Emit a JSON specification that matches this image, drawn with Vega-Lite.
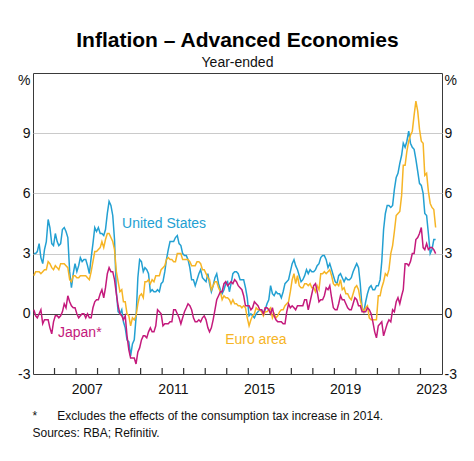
{
"$schema": "https://vega.github.io/schema/vega-lite/v6.json",
"width": 409,
"height": 301,
"autosize": {"type": "none"},
"padding": {"left": 33, "top": 73, "right": 32, "bottom": 87},
"background": "white",
"config": {
  "font": "Liberation Sans",
  "view": {"stroke": "#3a3a3a", "strokeWidth": 1},
  "axis": {"labelFont": "Liberation Sans", "labelColor": "#111", "labelFontSize": 14}
},
"title": {
  "text": "Inflation – Advanced Economies",
  "subtitle": "Year-ended",
  "font": "Liberation Sans",
  "subtitleFont": "Liberation Sans",
  "fontSize": 21,
  "fontWeight": "bold",
  "subtitleFontSize": 14,
  "color": "#000",
  "subtitleColor": "#111",
  "anchor": "middle",
  "offset": 3,
  "subtitlePadding": 5
},
"datasets": {
  "cpi": [
{"d":"2005-01-15","us":3.0,"ea":1.9,"jp":0.2},
{"d":"2005-02-15","us":3.0,"ea":2.1,"jp":-0.1},
{"d":"2005-03-15","us":3.1,"ea":2.1,"jp":-0.2},
{"d":"2005-04-15","us":3.5,"ea":2.1,"jp":0.0},
{"d":"2005-05-15","us":2.8,"ea":2.0,"jp":0.2},
{"d":"2005-06-15","us":2.5,"ea":2.1,"jp":-0.5},
{"d":"2005-07-15","us":3.2,"ea":2.2,"jp":-0.3},
{"d":"2005-08-15","us":3.6,"ea":2.2,"jp":-0.3},
{"d":"2005-09-15","us":4.7,"ea":2.6,"jp":-0.3},
{"d":"2005-10-15","us":4.3,"ea":2.5,"jp":-0.7},
{"d":"2005-11-15","us":3.5,"ea":2.3,"jp":-1.0},
{"d":"2005-12-15","us":3.4,"ea":2.2,"jp":-0.4},
{"d":"2006-01-15","us":4.0,"ea":2.4,"jp":-0.1},
{"d":"2006-02-15","us":3.6,"ea":2.3,"jp":-0.1},
{"d":"2006-03-15","us":3.4,"ea":2.2,"jp":-0.2},
{"d":"2006-04-15","us":3.5,"ea":2.5,"jp":-0.1},
{"d":"2006-05-15","us":4.2,"ea":2.5,"jp":0.1},
{"d":"2006-06-15","us":4.3,"ea":2.5,"jp":0.5},
{"d":"2006-07-15","us":4.1,"ea":2.4,"jp":0.3},
{"d":"2006-08-15","us":3.8,"ea":2.3,"jp":0.9},
{"d":"2006-09-15","us":2.1,"ea":1.7,"jp":0.6},
{"d":"2006-10-15","us":1.3,"ea":1.6,"jp":0.4},
{"d":"2006-11-15","us":2.0,"ea":1.9,"jp":0.3},
{"d":"2006-12-15","us":2.5,"ea":1.9,"jp":0.3},
{"d":"2007-01-15","us":2.1,"ea":1.8,"jp":0.0},
{"d":"2007-02-15","us":2.4,"ea":1.8,"jp":-0.2},
{"d":"2007-03-15","us":2.8,"ea":1.9,"jp":-0.1},
{"d":"2007-04-15","us":2.6,"ea":1.9,"jp":0.0},
{"d":"2007-05-15","us":2.7,"ea":1.9,"jp":0.0},
{"d":"2007-06-15","us":2.7,"ea":1.9,"jp":-0.2},
{"d":"2007-07-15","us":2.4,"ea":1.8,"jp":0.0},
{"d":"2007-08-15","us":2.0,"ea":1.7,"jp":-0.2},
{"d":"2007-09-15","us":2.8,"ea":2.1,"jp":-0.2},
{"d":"2007-10-15","us":3.5,"ea":2.6,"jp":0.3},
{"d":"2007-11-15","us":4.3,"ea":3.1,"jp":0.6},
{"d":"2007-12-15","us":4.1,"ea":3.1,"jp":0.7},
{"d":"2008-01-15","us":4.3,"ea":3.2,"jp":0.7},
{"d":"2008-02-15","us":4.0,"ea":3.3,"jp":1.0},
{"d":"2008-03-15","us":4.0,"ea":3.6,"jp":1.2},
{"d":"2008-04-15","us":3.9,"ea":3.3,"jp":0.8},
{"d":"2008-05-15","us":4.2,"ea":3.7,"jp":1.3},
{"d":"2008-06-15","us":5.0,"ea":4.0,"jp":2.0},
{"d":"2008-07-15","us":5.6,"ea":4.0,"jp":2.3},
{"d":"2008-08-15","us":5.4,"ea":3.8,"jp":2.1},
{"d":"2008-09-15","us":4.9,"ea":3.6,"jp":2.1},
{"d":"2008-10-15","us":3.7,"ea":3.2,"jp":1.7},
{"d":"2008-11-15","us":1.1,"ea":2.1,"jp":1.0},
{"d":"2008-12-15","us":0.1,"ea":1.6,"jp":0.4},
{"d":"2009-01-15","us":0.0,"ea":1.1,"jp":0.0},
{"d":"2009-02-15","us":0.2,"ea":1.2,"jp":-0.1},
{"d":"2009-03-15","us":-0.4,"ea":0.6,"jp":-0.3},
{"d":"2009-04-15","us":-0.7,"ea":0.6,"jp":-0.1},
{"d":"2009-05-15","us":-1.3,"ea":0.0,"jp":-1.1},
{"d":"2009-06-15","us":-1.4,"ea":-0.1,"jp":-1.8},
{"d":"2009-07-15","us":-2.1,"ea":-0.6,"jp":-2.2},
{"d":"2009-08-15","us":-1.5,"ea":-0.2,"jp":-2.2},
{"d":"2009-09-15","us":-1.3,"ea":-0.3,"jp":-2.2},
{"d":"2009-10-15","us":-0.2,"ea":-0.1,"jp":-2.5},
{"d":"2009-11-15","us":1.8,"ea":0.5,"jp":-1.9},
{"d":"2009-12-15","us":2.7,"ea":0.9,"jp":-1.7},
{"d":"2010-01-15","us":2.6,"ea":1.0,"jp":-1.3},
{"d":"2010-02-15","us":2.1,"ea":0.8,"jp":-1.1},
{"d":"2010-03-15","us":2.3,"ea":1.6,"jp":-1.1},
{"d":"2010-04-15","us":2.2,"ea":1.6,"jp":-1.2},
{"d":"2010-05-15","us":2.0,"ea":1.7,"jp":-0.9},
{"d":"2010-06-15","us":1.1,"ea":1.5,"jp":-0.7},
{"d":"2010-07-15","us":1.2,"ea":1.7,"jp":-0.9},
{"d":"2010-08-15","us":1.1,"ea":1.6,"jp":-0.9},
{"d":"2010-09-15","us":1.1,"ea":1.9,"jp":-0.6},
{"d":"2010-10-15","us":1.2,"ea":1.9,"jp":0.2},
{"d":"2010-11-15","us":1.1,"ea":1.9,"jp":0.1},
{"d":"2010-12-15","us":1.5,"ea":2.2,"jp":0.0},
{"d":"2011-01-15","us":1.6,"ea":2.3,"jp":-0.6},
{"d":"2011-02-15","us":2.1,"ea":2.4,"jp":-0.5},
{"d":"2011-03-15","us":2.7,"ea":2.7,"jp":-0.5},
{"d":"2011-04-15","us":3.2,"ea":2.8,"jp":-0.5},
{"d":"2011-05-15","us":3.6,"ea":2.7,"jp":-0.4},
{"d":"2011-06-15","us":3.6,"ea":2.7,"jp":-0.4},
{"d":"2011-07-15","us":3.6,"ea":2.6,"jp":0.2},
{"d":"2011-08-15","us":3.8,"ea":2.6,"jp":0.2},
{"d":"2011-09-15","us":3.9,"ea":3.0,"jp":0.0},
{"d":"2011-10-15","us":3.5,"ea":3.0,"jp":-0.2},
{"d":"2011-11-15","us":3.4,"ea":3.0,"jp":-0.5},
{"d":"2011-12-15","us":3.0,"ea":2.7,"jp":-0.2},
{"d":"2012-01-15","us":2.9,"ea":2.7,"jp":0.1},
{"d":"2012-02-15","us":2.9,"ea":2.7,"jp":0.3},
{"d":"2012-03-15","us":2.7,"ea":2.7,"jp":0.5},
{"d":"2012-04-15","us":2.3,"ea":2.6,"jp":0.4},
{"d":"2012-05-15","us":1.7,"ea":2.4,"jp":0.2},
{"d":"2012-06-15","us":1.7,"ea":2.4,"jp":-0.2},
{"d":"2012-07-15","us":1.4,"ea":2.4,"jp":-0.4},
{"d":"2012-08-15","us":1.7,"ea":2.6,"jp":-0.4},
{"d":"2012-09-15","us":2.0,"ea":2.6,"jp":-0.3},
{"d":"2012-10-15","us":2.2,"ea":2.5,"jp":-0.4},
{"d":"2012-11-15","us":1.8,"ea":2.2,"jp":-0.2},
{"d":"2012-12-15","us":1.7,"ea":2.2,"jp":-0.1},
{"d":"2013-01-15","us":1.6,"ea":2.0,"jp":-0.3},
{"d":"2013-02-15","us":2.0,"ea":1.8,"jp":-0.7},
{"d":"2013-03-15","us":1.5,"ea":1.7,"jp":-0.9},
{"d":"2013-04-15","us":1.1,"ea":1.2,"jp":-0.7},
{"d":"2013-05-15","us":1.4,"ea":1.4,"jp":-0.3},
{"d":"2013-06-15","us":1.8,"ea":1.6,"jp":0.2},
{"d":"2013-07-15","us":2.0,"ea":1.6,"jp":0.7},
{"d":"2013-08-15","us":1.5,"ea":1.3,"jp":0.9},
{"d":"2013-09-15","us":1.2,"ea":1.1,"jp":1.1},
{"d":"2013-10-15","us":1.0,"ea":0.7,"jp":1.1},
{"d":"2013-11-15","us":1.2,"ea":0.9,"jp":1.5},
{"d":"2013-12-15","us":1.5,"ea":0.8,"jp":1.6},
{"d":"2014-01-15","us":1.6,"ea":0.8,"jp":1.4},
{"d":"2014-02-15","us":1.1,"ea":0.7,"jp":1.5},
{"d":"2014-03-15","us":1.5,"ea":0.5,"jp":1.6},
{"d":"2014-04-15","us":2.0,"ea":0.7,"jp":1.5},
{"d":"2014-05-15","us":2.1,"ea":0.5,"jp":1.7},
{"d":"2014-06-15","us":2.1,"ea":0.5,"jp":1.6},
{"d":"2014-07-15","us":2.0,"ea":0.4,"jp":1.4},
{"d":"2014-08-15","us":1.7,"ea":0.4,"jp":1.3},
{"d":"2014-09-15","us":1.7,"ea":0.3,"jp":1.2},
{"d":"2014-10-15","us":1.7,"ea":0.4,"jp":0.9},
{"d":"2014-11-15","us":1.3,"ea":0.3,"jp":0.4},
{"d":"2014-12-15","us":0.8,"ea":-0.2,"jp":0.4},
{"d":"2015-01-15","us":-0.1,"ea":-0.6,"jp":0.4},
{"d":"2015-02-15","us":0.0,"ea":-0.3,"jp":0.2},
{"d":"2015-03-15","us":-0.1,"ea":-0.1,"jp":0.3},
{"d":"2015-04-15","us":-0.2,"ea":0.0,"jp":0.6},
{"d":"2015-05-15","us":0.0,"ea":0.3,"jp":0.5},
{"d":"2015-06-15","us":0.1,"ea":0.2,"jp":0.4},
{"d":"2015-07-15","us":0.2,"ea":0.2,"jp":0.2},
{"d":"2015-08-15","us":0.2,"ea":0.1,"jp":0.2},
{"d":"2015-09-15","us":0.0,"ea":-0.1,"jp":0.0},
{"d":"2015-10-15","us":0.2,"ea":0.1,"jp":0.3},
{"d":"2015-11-15","us":0.5,"ea":0.1,"jp":0.3},
{"d":"2015-12-15","us":0.7,"ea":0.2,"jp":0.2},
{"d":"2016-01-15","us":1.4,"ea":0.3,"jp":0.0},
{"d":"2016-02-15","us":1.0,"ea":-0.2,"jp":0.3},
{"d":"2016-03-15","us":0.9,"ea":0.0,"jp":-0.1},
{"d":"2016-04-15","us":1.1,"ea":-0.2,"jp":-0.3},
{"d":"2016-05-15","us":1.0,"ea":-0.1,"jp":-0.4},
{"d":"2016-06-15","us":1.0,"ea":0.1,"jp":-0.4},
{"d":"2016-07-15","us":0.8,"ea":0.2,"jp":-0.4},
{"d":"2016-08-15","us":1.1,"ea":0.2,"jp":-0.5},
{"d":"2016-09-15","us":1.5,"ea":0.4,"jp":-0.5},
{"d":"2016-10-15","us":1.6,"ea":0.5,"jp":0.1},
{"d":"2016-11-15","us":1.7,"ea":0.6,"jp":0.5},
{"d":"2016-12-15","us":2.1,"ea":1.1,"jp":0.3},
{"d":"2017-01-15","us":2.5,"ea":1.7,"jp":0.4},
{"d":"2017-02-15","us":2.7,"ea":2.0,"jp":0.3},
{"d":"2017-03-15","us":2.4,"ea":1.5,"jp":0.2},
{"d":"2017-04-15","us":2.2,"ea":1.9,"jp":0.4},
{"d":"2017-05-15","us":1.9,"ea":1.4,"jp":0.4},
{"d":"2017-06-15","us":1.6,"ea":1.3,"jp":0.4},
{"d":"2017-07-15","us":1.7,"ea":1.3,"jp":0.4},
{"d":"2017-08-15","us":1.9,"ea":1.5,"jp":0.7},
{"d":"2017-09-15","us":2.2,"ea":1.5,"jp":0.7},
{"d":"2017-10-15","us":2.0,"ea":1.4,"jp":0.2},
{"d":"2017-11-15","us":2.2,"ea":1.5,"jp":0.6},
{"d":"2017-12-15","us":2.1,"ea":1.3,"jp":1.0},
{"d":"2018-01-15","us":2.1,"ea":1.3,"jp":1.4},
{"d":"2018-02-15","us":2.2,"ea":1.1,"jp":1.5},
{"d":"2018-03-15","us":2.4,"ea":1.4,"jp":1.1},
{"d":"2018-04-15","us":2.5,"ea":1.2,"jp":0.6},
{"d":"2018-05-15","us":2.8,"ea":2.0,"jp":0.7},
{"d":"2018-06-15","us":2.9,"ea":2.0,"jp":0.7},
{"d":"2018-07-15","us":2.9,"ea":2.1,"jp":0.9},
{"d":"2018-08-15","us":2.7,"ea":2.0,"jp":1.3},
{"d":"2018-09-15","us":2.3,"ea":2.1,"jp":1.2},
{"d":"2018-10-15","us":2.5,"ea":2.2,"jp":1.4},
{"d":"2018-11-15","us":2.2,"ea":1.9,"jp":0.8},
{"d":"2018-12-15","us":1.9,"ea":1.5,"jp":0.3},
{"d":"2019-01-15","us":1.6,"ea":1.4,"jp":0.2},
{"d":"2019-02-15","us":1.5,"ea":1.5,"jp":0.2},
{"d":"2019-03-15","us":1.9,"ea":1.4,"jp":0.5},
{"d":"2019-04-15","us":2.0,"ea":1.7,"jp":0.9},
{"d":"2019-05-15","us":1.8,"ea":1.2,"jp":0.7},
{"d":"2019-06-15","us":1.6,"ea":1.3,"jp":0.7},
{"d":"2019-07-15","us":1.8,"ea":1.0,"jp":0.5},
{"d":"2019-08-15","us":1.7,"ea":1.0,"jp":0.3},
{"d":"2019-09-15","us":1.7,"ea":0.8,"jp":0.2},
{"d":"2019-10-15","us":1.8,"ea":0.7,"jp":0.2},
{"d":"2019-11-15","us":2.1,"ea":1.0,"jp":0.5},
{"d":"2019-12-15","us":2.3,"ea":1.3,"jp":0.8},
{"d":"2020-01-15","us":2.5,"ea":1.4,"jp":0.7},
{"d":"2020-02-15","us":2.3,"ea":1.2,"jp":0.4},
{"d":"2020-03-15","us":1.5,"ea":0.7,"jp":0.4},
{"d":"2020-04-15","us":0.3,"ea":0.3,"jp":0.1},
{"d":"2020-05-15","us":0.1,"ea":0.1,"jp":0.1},
{"d":"2020-06-15","us":0.6,"ea":0.3,"jp":0.1},
{"d":"2020-07-15","us":1.0,"ea":0.4,"jp":0.3},
{"d":"2020-08-15","us":1.3,"ea":-0.2,"jp":0.2},
{"d":"2020-09-15","us":1.4,"ea":-0.3,"jp":0.0},
{"d":"2020-10-15","us":1.2,"ea":-0.3,"jp":-0.4},
{"d":"2020-11-15","us":1.2,"ea":-0.3,"jp":-0.9},
{"d":"2020-12-15","us":1.4,"ea":-0.3,"jp":-1.2},
{"d":"2021-01-15","us":1.4,"ea":0.9,"jp":-0.6},
{"d":"2021-02-15","us":1.7,"ea":0.9,"jp":-0.5},
{"d":"2021-03-15","us":2.6,"ea":1.3,"jp":-0.4},
{"d":"2021-04-15","us":4.2,"ea":1.6,"jp":-1.1},
{"d":"2021-05-15","us":5.0,"ea":2.0,"jp":-0.8},
{"d":"2021-06-15","us":5.4,"ea":1.9,"jp":-0.5},
{"d":"2021-07-15","us":5.4,"ea":2.2,"jp":-0.3},
{"d":"2021-08-15","us":5.3,"ea":3.0,"jp":-0.4},
{"d":"2021-09-15","us":5.4,"ea":3.4,"jp":0.2},
{"d":"2021-10-15","us":6.2,"ea":4.1,"jp":0.1},
{"d":"2021-11-15","us":6.8,"ea":4.9,"jp":0.6},
{"d":"2021-12-15","us":7.0,"ea":5.0,"jp":0.8},
{"d":"2022-01-15","us":7.5,"ea":5.1,"jp":0.5},
{"d":"2022-02-15","us":7.9,"ea":5.9,"jp":0.9},
{"d":"2022-03-15","us":8.5,"ea":7.4,"jp":1.2},
{"d":"2022-04-15","us":8.3,"ea":7.4,"jp":2.5},
{"d":"2022-05-15","us":8.6,"ea":8.1,"jp":2.5},
{"d":"2022-06-15","us":9.1,"ea":8.6,"jp":2.4},
{"d":"2022-07-15","us":8.5,"ea":8.9,"jp":2.6},
{"d":"2022-08-15","us":8.3,"ea":9.1,"jp":3.0},
{"d":"2022-09-15","us":8.2,"ea":9.9,"jp":3.0},
{"d":"2022-10-15","us":7.7,"ea":10.6,"jp":3.7},
{"d":"2022-11-15","us":7.1,"ea":10.1,"jp":3.8},
{"d":"2022-12-15","us":6.5,"ea":9.2,"jp":4.0},
{"d":"2023-01-15","us":6.4,"ea":8.6,"jp":4.3},
{"d":"2023-02-15","us":6.0,"ea":8.5,"jp":3.3},
{"d":"2023-03-15","us":5.0,"ea":6.9,"jp":3.2},
{"d":"2023-04-15","us":4.9,"ea":7.0,"jp":3.5},
{"d":"2023-05-15","us":4.0,"ea":6.1,"jp":3.2},
{"d":"2023-06-15","us":3.0,"ea":5.5,"jp":3.3},
{"d":"2023-07-15","us":3.2,"ea":5.3,"jp":3.3},
{"d":"2023-08-15","us":3.7,"ea":5.2,"jp":3.2},
{"d":"2023-09-15","us":3.7,"ea":4.3,"jp":3.0}
  ],
  "labels": [
    {"d": "2009-02-20", "v": 4.48, "series": "us", "label": "United States"},
    {"d": "2006-03-01", "v": -0.95, "series": "jp", "label": "Japan*"},
    {"d": "2013-12-05", "v": -1.29, "series": "ea", "label": "Euro area"}
  ],
  "yearticks": [
    {"d": "2006-01-01"}, {"d": "2007-01-01"}, {"d": "2008-01-01"}, {"d": "2009-01-01"},
    {"d": "2010-01-01"}, {"d": "2011-01-01"}, {"d": "2012-01-01"}, {"d": "2013-01-01"},
    {"d": "2014-01-01"}, {"d": "2015-01-01"}, {"d": "2016-01-01"}, {"d": "2017-01-01"},
    {"d": "2018-01-01"}, {"d": "2019-01-01"}, {"d": "2020-01-01"}, {"d": "2021-01-01"},
    {"d": "2022-01-01"}, {"d": "2023-01-01"}
  ]
},
"layer": [
  {
    "data": {"name": "cpi"},
    "transform": [{"fold": ["us", "ea", "jp"], "as": ["series", "v"]}],
    "mark": {"type": "line", "strokeWidth": 1.5},
    "encoding": {
      "x": {
        "field": "d", "type": "temporal",
        "scale": {"type": "utc", "domain": [{"year": 2005, "month": 1, "date": 1, "utc": true}, {"year": 2024, "month": 1, "date": 1, "utc": true}]},
        "axis": {
          "title": ["*\u00a0\u00a0\u00a0\u00a0\u00a0\u00a0Excludes the effects of the consumption tax increase in 2014.", "Sources: RBA; Refinitiv."],
          "titleFont": "Liberation Sans", "titleFontSize": 12, "titleFontWeight": "normal", "titleColor": "#111",
          "titleAnchor": "start", "titleAlign": "left", "titleX": -1, "titleY": 42, "titleBaseline": "top", "titleLineHeight": 17,
          "tickCount": {"interval": "year", "step": 1},
          "labelExpr": "utcyear(datum.value) % 4 == 3 ? utcFormat(datum.value, '%Y') : ''",
          "labelOffset": 10.75, "labelFlush": false, "labelOverlap": false, "labelBound": false,
          "offset": -6, "domain": false, "zindex": 2,
          "labelPadding": 8, "labelBaseline": "top",
          "ticks": true, "tickSize": 6, "tickColor": "#3a3a3a", "tickWidth": 1, "tickOpacity": 0, "grid": false
        }
      },
      "y": {
        "field": "v", "type": "quantitative",
        "scale": {"domain": [-3, 12], "nice": false, "zero": false},
        "axis": {
          "orient": "left", "title": null, "values": [-3, 0, 3, 6, 9, 12],
          "domain": false, "ticks": false, "labelPadding": 3, "labelOverlap": false,
          "labelExpr": "datum.value == 12 ? '%' : (datum.value < 0 ? '-' + abs(datum.value) : '' + datum.value)",
          "labelBaseline": {"condition": {"test": "datum.value == 12", "value": "top"}, "value": "middle"},
          "grid": true,
          "gridColor": {"condition": {"test": "datum.value == 0", "value": "#444"}, "value": "#cacaca"},
          "gridOpacity": {"condition": {"test": "datum.value == 12 || datum.value == -3", "value": 0}, "value": 1},
          "gridWidth": 1
        }
      },
      "color": {
        "field": "series", "type": "nominal", "legend": null,
        "scale": {"domain": ["us", "ea", "jp"], "range": ["#23a0d2", "#f6b526", "#c41a7c"]}
      }
    }
  },
  {
    "data": {"name": "yearticks"},
    "mark": {"type": "rule", "stroke": "#333333", "strokeWidth": 1.2},
    "encoding": {
      "x": {"field": "d", "type": "temporal"},
      "y": {"datum": -3, "type": "quantitative", "axis": null},
      "y2": {"datum": -2.7}
    }
  },
  {
    "data": {"name": "labels"},
    "mark": {"type": "text", "align": "left", "baseline": "middle", "font": "Liberation Sans", "fontSize": 14},
    "encoding": {
      "x": {"field": "d", "type": "temporal"},
      "y": {
        "field": "v", "type": "quantitative",
        "axis": {
          "orient": "right", "title": null, "values": [-3, 0, 3, 6, 9, 12],
          "domain": false, "ticks": false, "labelPadding": 2, "labelOverlap": false,
          "labelExpr": "datum.value == 12 ? '%' : (datum.value < 0 ? '-' + abs(datum.value) : '' + datum.value)",
          "labelBaseline": {"condition": {"test": "datum.value == 12", "value": "top"}, "value": "middle"},
          "grid": false
        }
      },
      "text": {"field": "label"},
      "color": {"field": "series", "type": "nominal", "legend": null}
    }
  }
],
"resolve": {"axis": {"y": "independent"}}
}
